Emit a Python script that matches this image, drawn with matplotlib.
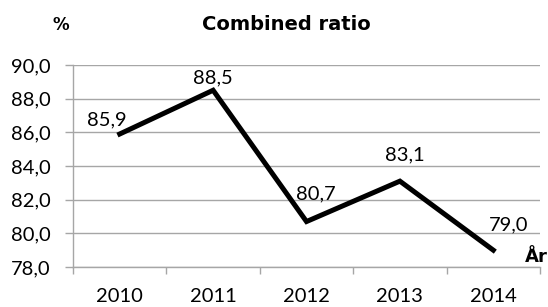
import matplotlib
matplotlib.use("Agg")
import matplotlib.pyplot as plt
from matplotlib.ticker import FixedLocator, FuncFormatter

years = ["2010", "2011", "2012", "2013", "2014"]
combined_ratio = [85.9, 88.5, 80.7, 83.1, 79.0]
y_ticks = [78, 80, 82, 84, 86, 88, 90]

# label offsets in pixels, to mimic the Excel placement
label_offsets = [(-13, 14), (0, 12), (9, 28), (5, 26), (15, 25)]

GRID = "#a6a6a6"
NUM_FONT = ["Lato", "DejaVu Sans"]
NUM_SIZE = 14.5

plt.rcParams["font.family"] = ["DejaVu Sans"]

fig = plt.figure(figsize=(5.48, 3.07), dpi=100)
ax = fig.add_axes([73 / 548, 1 - 267 / 307, (540 - 73) / 548, (267 - 65) / 307])

x = list(range(len(years)))
ax.plot(x, combined_ratio, color="black", linewidth=3.6, solid_joinstyle="miter")

for xi, val, (dx, dy) in zip(x, combined_ratio, label_offsets):
    ax.annotate(
        f"{val:.1f}".replace(".", ","),
        (xi, val),
        xytext=(dx, dy),
        textcoords="offset pixels",
        ha="center",
        va="center",
        fontsize=NUM_SIZE,
        family=NUM_FONT,
    )

ax.set_xlim(-0.5, len(years) - 0.5)
ax.set_ylim(78, 90)
ax.set_yticks(y_ticks)
ax.yaxis.set_major_formatter(FuncFormatter(lambda v, _: f"{v:.1f}".replace(".", ",")))
ax.grid(axis="y", color=GRID, linewidth=1.0)
ax.set_axisbelow(True)

ax.set_xticks(x)
ax.set_xticklabels(years)
ax.xaxis.set_minor_locator(FixedLocator([i - 0.5 for i in range(len(years) + 1)]))
ax.tick_params(axis="x", which="major", length=0, pad=15)
ax.tick_params(axis="x", which="minor", length=5, width=1.0, color=GRID)
ax.tick_params(axis="y", which="major", length=6, width=1.0, color=GRID, pad=10)
for lab in ax.get_xticklabels() + ax.get_yticklabels():
    lab.set_family(NUM_FONT)
    lab.set_fontsize(NUM_SIZE)

for side in ["top", "right"]:
    ax.spines[side].set_visible(False)
for side in ["left", "bottom"]:
    ax.spines[side].set_color(GRID)
    ax.spines[side].set_linewidth(1.0)

fig.text(286 / 548, 1 - 25 / 307, "Combined ratio", ha="center", va="center",
         fontsize=14, fontweight="bold")
fig.text(61 / 548, 1 - 25 / 307, "%", ha="center", va="center",
         fontsize=12, fontweight="bold")
fig.text(536 / 548, 1 - 257 / 307, "År", ha="center", va="center",
         fontsize=13, fontweight="bold")

fig.savefig("out.png", dpi=100)
